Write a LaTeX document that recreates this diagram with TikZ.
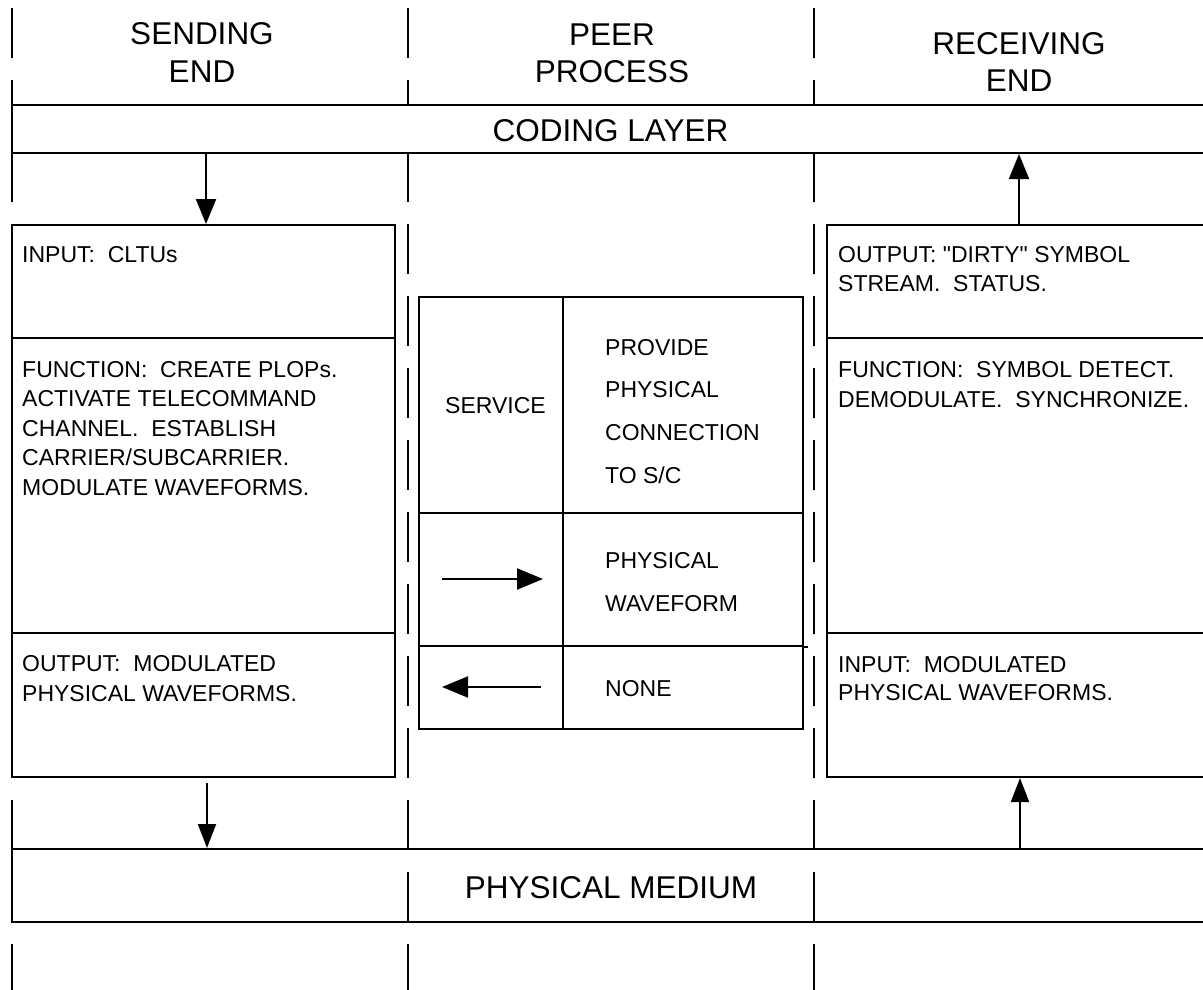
\documentclass[tikz,border=0pt]{standalone}
\usepackage{fontspec}
\setmainfont{Liberation Sans}
\usetikzlibrary{arrows.meta,calc}

% stacked lines with a fixed baseline distance; the box baseline is that of the first line
\newcommand\leftstack[2]{\vtop{\baselineskip=#1\lineskiplimit=-100pt\lineskip=0pt\halign{##\hfil\cr#2\crcr}}}
\newcommand\centerstack[2]{\vtop{\baselineskip=#1\lineskiplimit=-100pt\lineskip=0pt\halign{\hfil##\hfil\cr#2\crcr}}}

\tikzset{
  rule/.style={line width=2pt},
  cell/.style={draw, rectangle, line width=2pt, inner sep=0pt},
  gapline/.style={line width=2pt, dash pattern=on 50pt off 22pt},
  arr/.style={line width=2pt, -{Triangle[length=25pt,width=20pt]}},
  slimarr/.style={line width=2pt, -{Triangle[length=24pt,width=18pt]}},
  head/.style={font=\fontsize{31.5}{38}\selectfont, inner sep=0pt, anchor=base},
  body/.style={font=\fontsize{23}{30}\selectfont, inner sep=0pt, anchor=base west},
}

\begin{document}
\begin{tikzpicture}[x=1pt, y=-1pt]
\path[fill=white, use as bounding box] (0,0) rectangle (1203,990);

% column separators
\coordinate (d1t) at (12,8);   \coordinate (d1b) at (12,998);
\coordinate (d2t) at (408,8);  \coordinate (d2b) at (408,998);
\coordinate (d3t) at (814,8);  \coordinate (d3b) at (814,998);
\draw[gapline] (d1t) -- (d1b);
\draw[gapline] (d2t) -- (d2b);
\draw[gapline] (d3t) -- (d3b);

% column headings
\node[head] (hsend) at (202,45) {\centerstack{38pt}{SENDING\cr END}};
\node[head] (hpeer) at (612,46) {\centerstack{37pt}{PEER\cr PROCESS}};
\node[head] (hrecv) at (1019,55) {\centerstack{37pt}{RECEIVING\cr END}};

% layer bands
\node[cell, fill=white, minimum width=1201pt, minimum height=48pt] (coding) at (612.5,129) {};
\node[head] (codingtxt) at (610.5,141.5) {CODING LAYER};
\node[cell, minimum width=1201pt, minimum height=73pt] (phys) at (612.5,885.5) {};
\node[head] (phystxt) at (611,898) {PHYSICAL MEDIUM};

% sending end
\node[cell, fill=white, minimum width=383pt, minimum height=113pt] (in1) at (203.5,281.5) {};
\node[cell, fill=white, minimum width=383pt, minimum height=295pt] (fn1) at (203.5,485.5) {};
\node[cell, fill=white, minimum width=383pt, minimum height=144pt] (out1) at (203.5,705) {};
\node[body] (tin1) at (22,262) {\leftstack{30pt}{INPUT:~ CLTUs}};
\node[body] (tfn1) at (22,377) {\leftstack{29.6pt}{FUNCTION:~ CREATE PLOPs.\cr ACTIVATE TELECOMMAND\cr CHANNEL.~ ESTABLISH\cr CARRIER/SUBCARRIER.\cr MODULATE WAVEFORMS.}};
\node[body] (tout1) at (22,671) {\leftstack{30.5pt}{OUTPUT:~ MODULATED\cr PHYSICAL WAVEFORMS.}};

% receiving end
\node[cell, fill=white, minimum width=386pt, minimum height=113pt] (out2) at (1020,281.5) {};
\node[cell, fill=white, minimum width=386pt, minimum height=295pt] (fn2) at (1020,485.5) {};
\node[cell, fill=white, minimum width=386pt, minimum height=144pt] (in2) at (1020,705) {};
\node[body] (tout2) at (838,262) {\leftstack{29.5pt}{OUTPUT: \textquotedbl DIRTY\textquotedbl\ SYMBOL\cr STREAM.~ STATUS.}};
\node[body] (tfn2) at (838,377) {\leftstack{30pt}{FUNCTION:~ SYMBOL DETECT.\cr DEMODULATE.~ SYNCHRONIZE.}};
\node[body] (tin2) at (838,672) {\leftstack{28.5pt}{INPUT:~ MODULATED\cr PHYSICAL WAVEFORMS.}};

% peer process table
\node[cell, fill=white, minimum width=144pt, minimum height=216pt] (t1l) at (491,405) {};
\node[cell, fill=white, minimum width=240pt, minimum height=216pt] (t1r) at (683,405) {};
\node[cell, fill=white, minimum width=144pt, minimum height=133pt] (t2l) at (491,579.5) {};
\node[cell, fill=white, minimum width=240pt, minimum height=133pt] (t2r) at (683,579.5) {};
\node[cell, fill=white, minimum width=144pt, minimum height=83pt] (t3l) at (491,687.5) {};
\node[cell, fill=white, minimum width=240pt, minimum height=83pt] (t3r) at (683,687.5) {};
\draw[rule] (t2r.south east) -- ++(4,0);
\node[body] (tsvc) at (445,413) {SERVICE};
\node[body] (tprov) at (605,355) {\leftstack{42.7pt}{PROVIDE\cr PHYSICAL\cr CONNECTION\cr TO S/C}};
\node[body] (twave) at (605,568) {\leftstack{43pt}{PHYSICAL\cr WAVEFORM}};
\node[body] (tnone) at (605,696) {NONE};
\coordinate (fwdA) at (442,579); \coordinate (fwdB) at (543,579);
\coordinate (bckA) at (541,687); \coordinate (bckB) at (442,687);
\draw[line width=2pt, -{Triangle[length=26pt,width=21pt]}] (fwdA) -- (fwdB);
\draw[line width=2pt, -{Triangle[length=26pt,width=21pt]}] (bckA) -- (bckB);

% data flow between layers
\coordinate (xa) at (206,0);
\coordinate (xb) at (1019,0);
\coordinate (xc) at (207,0);
\coordinate (xd) at (1020,0);
\draw[arr] (coding.south -| xa) -- (in1.north -| xa);
\draw[arr] (out2.north -| xb) -- (coding.south -| xb);
\draw[slimarr, shorten <=5pt] (out1.south -| xc) -- (phys.north -| xc);
\draw[slimarr] (phys.north -| xd) -- (in2.south -| xd);
\end{tikzpicture}
\end{document}
